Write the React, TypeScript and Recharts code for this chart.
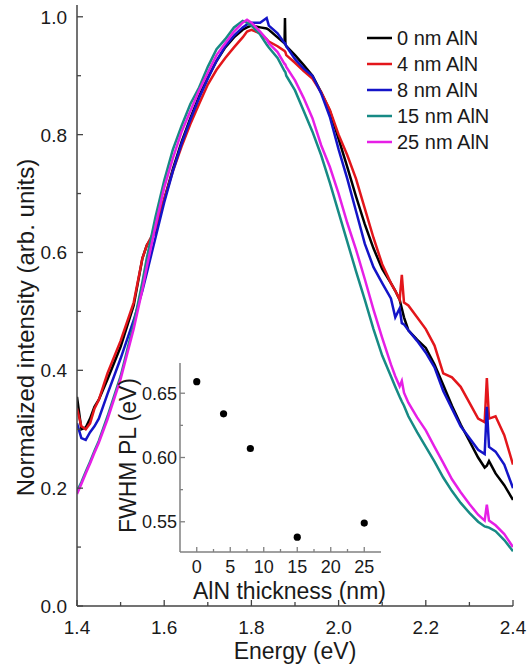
import React from "react"
import { LineChart, Line, XAxis, YAxis, ScatterChart, Scatter } from "recharts"

// photon energy grid (eV)
const energy = [
  1.40, 1.41, 1.42, 1.43, 1.44, 1.45,
  1.47, 1.50, 1.53, 1.55, 1.56,
  1.58, 1.60, 1.62, 1.64, 1.66,
  1.68, 1.70, 1.72, 1.74, 1.76,
  1.78, 1.79, 1.80, 1.82, 1.835,
  1.84, 1.86, 1.876, 1.877, 1.878,
  1.88, 1.90, 1.92, 1.94, 1.96,
  1.98, 2.00, 2.02, 2.04, 2.06,
  2.08, 2.10, 2.12, 2.13, 2.14,
  2.145, 2.15, 2.16, 2.18, 2.20,
  2.22, 2.24, 2.26, 2.28, 2.30,
  2.32, 2.335, 2.34, 2.345, 2.36,
  2.38, 2.40,
]

const nm0 = [
  0.355, 0.300, 0.303, 0.318, 0.338, 0.350,
  0.385, 0.440, 0.510, 0.590, 0.612,
  0.635, 0.690, 0.742, 0.788, 0.828,
  0.865, 0.897, 0.925, 0.948, 0.965,
  0.978, 0.982, 0.985, 0.982, 0.980,
  0.978, 0.965, 0.955, 0.998, 0.953,
  0.950, 0.935, 0.918, 0.900, 0.872,
  0.840, 0.793, 0.745, 0.695, 0.648,
  0.607, 0.572, 0.548, 0.535, 0.520,
  0.505, 0.490, 0.468, 0.452, 0.438,
  0.410, 0.375, 0.340, 0.308, 0.280,
  0.252, 0.235, 0.238, 0.246, 0.225,
  0.205, 0.180,
]

const nm4 = [
  0.335, 0.305, 0.300, 0.310, 0.335, 0.350,
  0.395, 0.450, 0.515, 0.590, 0.612,
  0.640, 0.690, 0.738, 0.780, 0.818,
  0.852, 0.885, 0.910, 0.930, 0.948,
  0.965, 0.975, 0.978, 0.972, 0.962,
  0.958, 0.950, 0.942, 0.941, 0.940,
  0.935, 0.922, 0.908, 0.895, 0.872,
  0.842, 0.800, 0.765, 0.725, 0.675,
  0.625, 0.580, 0.548, 0.535, 0.520,
  0.562, 0.515, 0.510, 0.490, 0.470,
  0.442, 0.395, 0.388, 0.372, 0.345,
  0.318, 0.312, 0.387, 0.318, 0.322,
  0.290, 0.240,
]

const nm8 = [
  0.310, 0.285, 0.282, 0.295, 0.305, 0.318,
  0.360, 0.420, 0.485, 0.535, 0.565,
  0.625, 0.685, 0.738, 0.785, 0.825,
  0.862, 0.895, 0.925, 0.950, 0.968,
  0.982, 0.987, 0.990, 0.990, 0.998,
  0.985, 0.972, 0.955, 0.955, 0.954,
  0.950, 0.928, 0.912, 0.900, 0.870,
  0.830, 0.775, 0.725, 0.670, 0.615,
  0.575, 0.548, 0.522, 0.490, 0.505,
  0.480, 0.478, 0.468, 0.450, 0.430,
  0.405, 0.365, 0.335, 0.305, 0.285,
  0.265, 0.258, 0.338, 0.270, 0.262,
  0.240, 0.200,
]

const nm15 = [
  0.195, 0.210, 0.228, 0.245, 0.263, 0.280,
  0.322, 0.390, 0.478, 0.550, 0.590,
  0.660, 0.722, 0.775, 0.815, 0.852,
  0.880, 0.915, 0.945, 0.962, 0.982,
  0.993, 0.990, 0.985, 0.970, 0.953,
  0.948, 0.930, 0.908, 0.907, 0.906,
  0.900, 0.875, 0.840, 0.805, 0.765,
  0.718, 0.668, 0.618, 0.568, 0.520,
  0.470, 0.425, 0.390, 0.372, 0.355,
  0.347, 0.340, 0.322, 0.295, 0.270,
  0.245, 0.218, 0.195, 0.175, 0.158,
  0.143, 0.135, 0.134, 0.133, 0.127,
  0.112, 0.093,
]

const nm25 = [
  0.190, 0.207, 0.225, 0.242, 0.260, 0.277,
  0.317, 0.385, 0.470, 0.537, 0.575,
  0.645, 0.710, 0.760, 0.805, 0.840,
  0.875, 0.905, 0.935, 0.955, 0.975,
  0.990, 0.995, 0.990, 0.975, 0.962,
  0.955, 0.940, 0.920, 0.920, 0.919,
  0.915, 0.892, 0.862, 0.828, 0.782,
  0.745, 0.700, 0.650, 0.605, 0.555,
  0.503, 0.455, 0.410, 0.390, 0.373,
  0.382, 0.362, 0.345, 0.320, 0.298,
  0.270, 0.243, 0.215, 0.193, 0.173,
  0.155, 0.145, 0.172, 0.145, 0.137,
  0.122, 0.100,
]

const seriesKeys = ["s0", "s4", "s8", "s15", "s25"]
const seriesNames = ["0 nm AlN", "4 nm AlN", "8 nm AlN", "15 nm AlN", "25 nm AlN"]
const seriesColors = ["#000000", "#e3161b", "#1414c8", "#178a85", "#e61fe6"]

const xTicks = [1.4, 1.5, 1.6, 1.7, 1.8, 1.9, 2.0, 2.1, 2.2, 2.3, 2.4]
const xLabels = [1.4, 1.6, 1.8, 2.0, 2.2, 2.4]
const yTicks = [0, 0.1, 0.2, 0.3, 0.4, 0.5, 0.6, 0.7, 0.8, 0.9, 1.0]
const yLabels = [0, 0.2, 0.4, 0.6, 0.8, 1.0]

// inset: FWHM vs AlN thickness
const thickness = [0, 4, 8, 15, 25]
const fwhm = [0.659, 0.634, 0.607, 0.538, 0.549]
const insetXTicks = [0, 2.5, 5, 7.5, 10, 12.5, 15, 17.5, 20, 22.5, 25]
const insetXLabels = [0, 5, 10, 15, 20, 25]
const insetYTicks = [0.55, 0.575, 0.6, 0.625, 0.65]
const insetYLabels = [0.55, 0.6, 0.65]

const rows = energy.map((e, i) => ({
  e,
  s0: nm0[i],
  s4: nm4[i],
  s8: nm8[i],
  s15: nm15[i],
  s25: nm25[i],
}))

const points = thickness.map((x, i) => ({ x, y: fwhm[i] }))

const FONT = "'Liberation Sans', Arial, sans-serif"
const TEXT = "#1a1a1a"

const isIn = (v: number, list: number[]) => list.some((l) => Math.abs(l - v) < 1e-6)

type Side = "bottom" | "top" | "left" | "right"

function makeTick(
  side: Side,
  labels: number[],
  fmt: (v: number) => string,
  o: { major: number; minor: number; font: number; gap: number; shift: number; color: string }
) {
  return (props: any) => {
    const { x, y, payload } = props
    const v = payload.value
    const major = isIn(v, labels)
    const len = major ? o.major : o.minor
    let x2 = x
    let y2 = y
    if (side === "bottom") y2 = y - len
    if (side === "top") y2 = y + len
    if (side === "left") x2 = x + len
    if (side === "right") x2 = x - len
    return (
      <g>
        <line x1={x} y1={y} x2={x2} y2={y2} stroke={o.color} strokeWidth={1.3} />
        {major && side === "bottom" && (
          <text x={x} y={y + o.gap} textAnchor="middle" fontSize={o.font} fontFamily={FONT} fill={TEXT}>
            {fmt(v)}
          </text>
        )}
        {major && side === "left" && (
          <text x={x - o.gap} y={y + o.shift} textAnchor="end" fontSize={o.font} fontFamily={FONT} fill={TEXT}>
            {fmt(v)}
          </text>
        )}
      </g>
    )
  }
}

const mainOpts = { major: 6, minor: 4, font: 19, gap: 28, shift: 7, color: "#444" }
const insetOpts = { major: 5, minor: 3, font: 18, gap: 21, shift: 6.5, color: "#808080" }
const f1 = (v: number) => v.toFixed(1)
const f2 = (v: number) => v.toFixed(2)
const f0 = (v: number) => String(v)

function PlotLegend() {
  return (
    <div style={{ position: "absolute", left: 367, top: 25, fontFamily: FONT, fontSize: 20, color: TEXT }}>
      {seriesNames.map((name, i) => (
        <div key={name} style={{ display: "flex", alignItems: "center", height: 26 }}>
          <svg width={30} height={26}>
            <line x1={0} y1={13} x2={25} y2={13} stroke={seriesColors[i]} strokeWidth={2.5} />
          </svg>
          <span style={{ lineHeight: "26px", whiteSpace: "nowrap" }}>{name}</span>
        </div>
      ))}
    </div>
  )
}

export default function App() {
  const frame = { stroke: "#444", strokeWidth: 1.5 }
  const insetFrame = { stroke: "#808080", strokeWidth: 1.5 }
  return (
    <div style={{ position: "absolute", left: 0, top: 0, width: 527, height: 670, background: "#fff" }}>
      <LineChart width={527} height={670} data={rows} margin={{ top: 5, right: 14, bottom: 0, left: 17 }}>
        <XAxis
          xAxisId="b"
          dataKey="e"
          type="number"
          domain={[1.4, 2.4]}
          ticks={xTicks}
          interval={0}
          height={64}
          tickSize={0}
          tickMargin={0}
          tickLine={false}
          axisLine={frame}
          allowDataOverflow
          tick={makeTick("bottom", xLabels, f1, mainOpts)}
          label={(p: any) => {
            const vb = p.viewBox
            return (
              <text x={vb.x + vb.width / 2} y={vb.y + 53} textAnchor="middle" fontSize={23} fontFamily={FONT} fill={TEXT}>
                Energy (eV)
              </text>
            )
          }}
        />
        <XAxis
          xAxisId="t"
          dataKey="e"
          orientation="top"
          type="number"
          domain={[1.4, 2.4]}
          ticks={xTicks}
          interval={0}
          height={0}
          tickSize={0}
          tickMargin={0}
          tickLine={false}
          axisLine={frame}
          allowDataOverflow
          tick={makeTick("top", xLabels, f1, mainOpts)}
        />
        <YAxis
          yAxisId="l"
          type="number"
          domain={[0, 1.02]}
          ticks={yTicks}
          interval={0}
          width={60}
          tickSize={0}
          tickMargin={0}
          tickLine={false}
          axisLine={frame}
          allowDataOverflow
          tick={makeTick("left", yLabels, f1, { ...mainOpts, gap: 10 })}
          label={(p: any) => {
            const vb = p.viewBox
            const cx = vb.x + 8
            const cy = vb.y + vb.height / 2 + 22
            return (
              <text
                x={cx}
                y={cy}
                transform={`rotate(-90 ${cx} ${cy})`}
                textAnchor="middle"
                dominantBaseline="central"
                fontSize={24}
                fontFamily={FONT}
                fill={TEXT}
              >
                Normalized intensity (arb. units)
              </text>
            )
          }}
        />
        <YAxis
          yAxisId="r"
          orientation="right"
          type="number"
          domain={[0, 1.02]}
          ticks={yTicks}
          interval={0}
          width={0}
          tickSize={0}
          tickMargin={0}
          tickLine={false}
          axisLine={frame}
          allowDataOverflow
          tick={makeTick("right", yLabels, f1, mainOpts)}
        />
        {seriesKeys.map((k, i) => (
          <Line
            key={k}
            xAxisId="b"
            yAxisId="l"
            type="linear"
            dataKey={k}
            name={seriesNames[i]}
            stroke={seriesColors[i]}
            strokeWidth={2.5}
            dot={false}
            isAnimationActive={false}
          />
        ))}
      </LineChart>

      <PlotLegend />

      <div style={{ position: "absolute", left: 100, top: 340 }}>
        <ScatterChart width={300} height={270} margin={{ top: 23, right: 19, bottom: 0, left: 0 }}>
          <XAxis
            xAxisId="b"
            dataKey="x"
            type="number"
            domain={[-2.5, 27.5]}
            ticks={insetXTicks}
            interval={0}
            height={58}
            tickSize={0}
            tickMargin={0}
            tickLine={false}
            axisLine={insetFrame}
            allowDataOverflow
            tick={makeTick("bottom", insetXLabels, f0, insetOpts)}
            label={(p: any) => {
              const vb = p.viewBox
              return (
                <text x={vb.x + vb.width / 2 + 9} y={vb.y + 47} textAnchor="middle" fontSize={23} fontFamily={FONT} fill={TEXT}>
                  AlN thickness (nm)
                </text>
              )
            }}
          />
          <XAxis
            xAxisId="t"
            dataKey="x"
            orientation="top"
            type="number"
            domain={[-2.5, 27.5]}
            ticks={insetXTicks}
            interval={0}
            height={0}
            tickSize={0}
            tickMargin={0}
            tickLine={false}
            axisLine={insetFrame}
            allowDataOverflow
            tick={makeTick("top", insetXLabels, f0, insetOpts)}
          />
          <YAxis
            yAxisId="l"
            dataKey="y"
            type="number"
            domain={[0.5265, 0.6735]}
            ticks={insetYTicks}
            interval={0}
            width={80}
            tickSize={0}
            tickMargin={0}
            tickLine={false}
            axisLine={insetFrame}
            allowDataOverflow
            tick={makeTick("left", insetYLabels, f2, { ...insetOpts, gap: 3 })}
            label={(p: any) => {
              const vb = p.viewBox
              const cx = vb.x + 28
              const cy = vb.y + vb.height / 2 - 2
              return (
                <text
                  x={cx}
                  y={cy}
                  transform={`rotate(-90 ${cx} ${cy})`}
                  textAnchor="middle"
                  dominantBaseline="central"
                  fontSize={23}
                  fontFamily={FONT}
                  fill={TEXT}
                >
                  FWHM PL (eV)
                </text>
              )
            }}
          />
          <YAxis
            yAxisId="r"
            dataKey="y"
            orientation="right"
            type="number"
            domain={[0.5265, 0.6735]}
            ticks={insetYTicks}
            interval={0}
            width={0}
            tickSize={0}
            tickMargin={0}
            tickLine={false}
            axisLine={insetFrame}
            allowDataOverflow
            tick={makeTick("right", insetYLabels, f2, insetOpts)}
          />
          <Scatter
            data={points}
            xAxisId="b"
            yAxisId="l"
            fill="#000"
            isAnimationActive={false}
            shape={(p: any) => <circle cx={p.cx} cy={p.cy} r={3.6} fill="#000" />}
          />
        </ScatterChart>
      </div>
    </div>
  )
}
